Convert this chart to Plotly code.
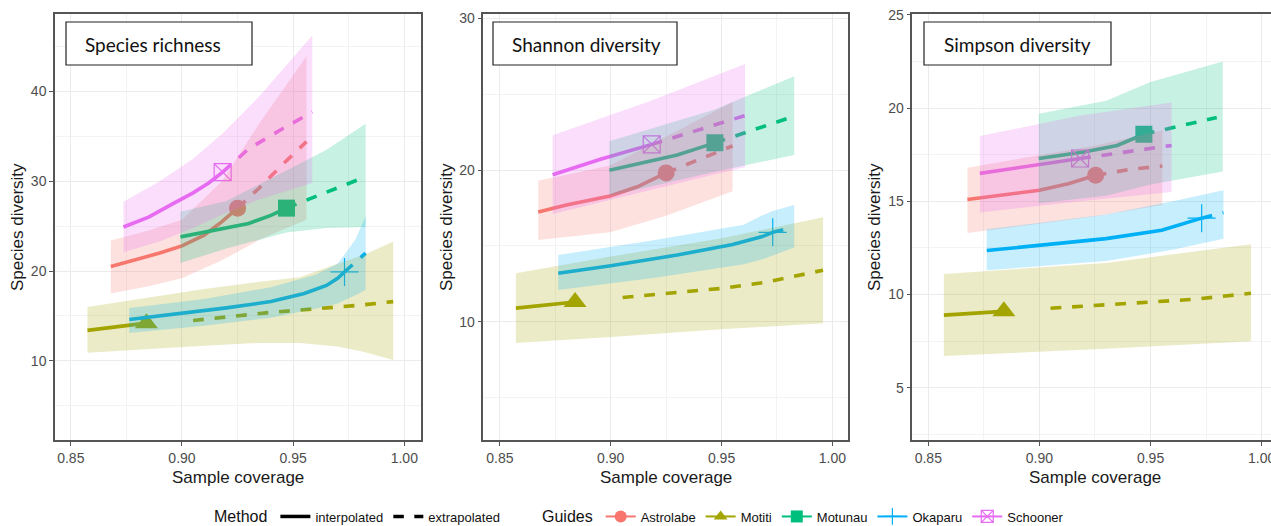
import plotly.graph_objects as go

W, H = 1271, 526

GUIDES = ["Astrolabe", "Motiti", "Motunau", "Okaparu", "Schooner"]
COLORS = {"Astrolabe": "#F8766D", "Motiti": "#A3A500", "Motunau": "#00BF7D",
          "Okaparu": "#00B0F6", "Schooner": "#E76BF3"}
SYMBOLS = {"Astrolabe": "circle", "Motiti": "triangle-up", "Motunau": "square",
           "Okaparu": "cross-thin", "Schooner": "square-x-open"}
SIZES = {"Astrolabe": 17, "Motiti": 20, "Motunau": 17, "Okaparu": 20, "Schooner": 17}

PANEL_TITLES = ["Species richness", "Shannon diversity", "Simpson diversity"]
X_TICKS = [0.85, 0.90, 0.95, 1.00]
X_TICK_LABELS = ["0.85", "0.90", "0.95", "1.00"]

# ---------------- Species richness ----------------
rich_interp = {
    "Astrolabe": ([0.868, 0.880, 0.890, 0.900, 0.910, 0.918, 0.925], [20.5, 21.3, 22.0, 22.8, 24.0, 25.5, 27.0]),
    "Motiti": ([0.8575, 0.870, 0.884], [13.4, 13.8, 14.2]),
    "Motunau": ([0.8993, 0.910, 0.920, 0.930, 0.940, 0.947], [23.8, 24.3, 24.8, 25.3, 26.2, 27.0]),
    "Okaparu": ([0.8763, 0.900, 0.920, 0.940, 0.955, 0.965, 0.970, 0.9731], [14.6, 15.3, 15.9, 16.6, 17.5, 18.4, 19.2, 19.9]),
    "Schooner": ([0.8737, 0.885, 0.896, 0.905, 0.912, 0.9183], [24.9, 26.0, 27.5, 28.7, 29.8, 31.0]),
}
rich_extrap = {
    "Astrolabe": ([0.925, 0.935, 0.945, 0.956], [27.0, 29.3, 31.8, 34.4]),
    "Motiti": ([0.905, 0.920, 0.940, 0.960, 0.980, 0.995], [14.5, 14.9, 15.4, 15.8, 16.2, 16.6]),
    "Motunau": ([0.947, 0.960, 0.970, 0.9796], [27.0, 28.3, 29.3, 30.2]),
    "Okaparu": ([0.9731, 0.978, 0.9826], [19.9, 21.0, 22.0]),
    "Schooner": ([0.9183, 0.930, 0.945, 0.9586], [31.0, 33.6, 35.8, 37.7]),
}
rich_band = {
    "Astrolabe": ([0.868, 0.885, 0.900, 0.918, 0.935, 0.956],
                  [17.5, 18.3, 19.2, 21.2, 23.5, 25.7],
                  [23.4, 24.5, 25.7, 30.0, 36.5, 43.9]),
    "Motiti": ([0.8575, 0.884, 0.910, 0.935, 0.953, 0.970, 0.982, 0.995],
               [10.9, 11.3, 11.7, 12.0, 12.0, 11.6, 11.0, 10.1],
               [16.0, 17.0, 18.0, 18.8, 19.3, 20.8, 21.8, 23.3]),
    "Motunau": ([0.8993, 0.920, 0.947, 0.965, 0.9826],
                [20.9, 22.5, 24.3, 24.8, 24.9],
                [26.6, 27.8, 31.2, 33.5, 36.4]),
    "Okaparu": ([0.8763, 0.910, 0.940, 0.960, 0.970, 0.9731, 0.978, 0.9826],
                [13.1, 13.9, 14.8, 15.8, 16.4, 16.8, 17.3, 17.9],
                [15.9, 16.9, 18.2, 19.6, 20.8, 21.8, 23.5, 26.1]),
    "Schooner": ([0.8737, 0.890, 0.905, 0.9183, 0.935, 0.9586],
                 [22.1, 23.3, 24.8, 26.3, 28.0, 29.8],
                 [27.7, 30.0, 32.5, 35.3, 39.5, 46.2]),
}

# ---------------- Shannon diversity ----------------
shan_interp = {
    "Astrolabe": ([0.8673, 0.880, 0.8997, 0.912, 0.925], [17.24, 17.7, 18.3, 18.9, 19.82]),
    "Motiti": ([0.8572, 0.870, 0.8839], [10.9, 11.1, 11.3]),
    "Motunau": ([0.8994, 0.915, 0.930, 0.947], [20.0, 20.5, 21.0, 21.8]),
    "Okaparu": ([0.8763, 0.900, 0.930, 0.955, 0.968, 0.9731], [13.2, 13.7, 14.4, 15.1, 15.6, 15.9]),
    "Schooner": ([0.8738, 0.895, 0.9185], [19.7, 20.7, 21.7]),
}
shan_extrap = {
    "Astrolabe": ([0.925, 0.940, 0.955], [19.82, 20.7, 21.6]),
    "Motiti": ([0.9054, 0.930, 0.950, 0.970, 0.9958], [11.6, 11.9, 12.2, 12.6, 13.4]),
    "Motunau": ([0.947, 0.965, 0.9795], [21.8, 22.7, 23.4]),
    "Okaparu": ([0.9731, 0.979], [15.9, 16.1]),
    "Schooner": ([0.9185, 0.940, 0.9606], [21.7, 22.7, 23.6]),
}
shan_band = {
    "Astrolabe": ([0.8673, 0.8997, 0.925, 0.955], [15.4, 15.9, 17.0, 18.6], [19.3, 20.3, 22.2, 24.5]),
    "Motiti": ([0.8572, 0.900, 0.950, 0.9958], [8.6, 9.0, 9.5, 9.9], [13.2, 14.3, 15.5, 16.9]),
    "Motunau": ([0.8994, 0.947, 0.9828], [18.3, 19.9, 21.0], [21.9, 24.0, 26.2]),
    "Okaparu": ([0.8763, 0.920, 0.960, 0.968, 0.9731, 0.9828],
                [12.1, 12.9, 13.8, 14.1, 14.4, 14.9],
                [14.4, 15.4, 16.4, 17.0, 17.3, 17.7]),
    "Schooner": ([0.8738, 0.9185, 0.9606], [17.1, 18.7, 20.2], [22.3, 24.6, 27.0]),
}

# ---------------- Simpson diversity ----------------
simp_interp = {
    "Astrolabe": ([0.8676, 0.885, 0.900, 0.913, 0.9253], [15.1, 15.35, 15.6, 15.95, 16.4]),
    "Motiti": ([0.857, 0.870, 0.884], [8.9, 9.0, 9.1]),
    "Motunau": ([0.8997, 0.920, 0.935, 0.947], [17.3, 17.65, 18.0, 18.6]),
    "Okaparu": ([0.8763, 0.900, 0.930, 0.955, 0.973], [12.36, 12.65, 13.0, 13.45, 14.1]),
    "Schooner": ([0.8732, 0.895, 0.9183], [16.5, 16.9, 17.3]),
}
simp_extrap = {
    "Astrolabe": ([0.9253, 0.940, 0.9553], [16.4, 16.7, 16.9]),
    "Motiti": ([0.905, 0.930, 0.950, 0.970, 0.9952], [9.27, 9.45, 9.6, 9.75, 10.07]),
    "Motunau": ([0.947, 0.965, 0.9798], [18.6, 19.1, 19.5]),
    "Okaparu": ([0.973, 0.9828], [14.1, 14.4]),
    "Schooner": ([0.9183, 0.940, 0.9595], [17.3, 17.65, 18.0]),
}
simp_band = {
    "Astrolabe": ([0.8676, 0.9253, 0.9553], [13.3, 14.2, 14.8], [16.8, 18.0, 18.8]),
    "Motiti": ([0.857, 0.930, 0.9952], [6.7, 7.1, 7.5], [11.1, 11.7, 12.7]),
    "Motunau": ([0.8997, 0.930, 0.950, 0.9825], [14.9, 15.3, 15.9, 16.6], [19.7, 20.4, 21.4, 22.5]),
    "Okaparu": ([0.8763, 0.930, 0.960, 0.9828], [11.3, 11.8, 12.4, 13.0], [13.5, 14.3, 15.0, 15.6]),
    "Schooner": ([0.8732, 0.9183, 0.9595], [14.4, 15.0, 15.5], [18.5, 19.6, 20.3]),
}

PANELS = [
    (rich_interp, rich_extrap, rich_band),
    (shan_interp, shan_extrap, shan_band),
    (simp_interp, simp_extrap, simp_band),
]
Y_TICKS = [[10, 20, 30, 40], [10, 20, 30], [5, 10, 15, 20, 25]]

# ---------------- layout geometry ----------------
X_DOMAINS = [[55 / W, 421 / W], [483.3 / W, 848.3 / W], [912.3 / W, 1.0]]
X_RANGES = [[0.8429, 1.0075], [0.8425, 1.0072], [0.8428, 1.0042]]
Y_RANGES = [[1.2, 48.6], [2.2, 30.3], [2.2, 25.05]]
Y_MINOR = [5, 5, 2.5]
Y_DOMAIN = [(H - 440) / H, (H - 14) / H]


def rgba(hexc, a):
    h = hexc.lstrip("#")
    r, g, b = int(h[0:2], 16), int(h[2:4], 16), int(h[4:6], 16)
    return f"rgba({r},{g},{b},{a})"


fig = go.Figure()
LW = 3.6

for p, (interp, extrap, band) in enumerate(PANELS):
    xa = "x" if p == 0 else f"x{p + 1}"
    ya = "y" if p == 0 else f"y{p + 1}"
    # lines first
    for g in GUIDES:
        c = COLORS[g]
        xi, yi = interp[g]
        xe, ye = extrap[g]
        fig.add_trace(go.Scatter(x=xe, y=ye, mode="lines", xaxis=xa, yaxis=ya,
                                 line=dict(color=c, width=LW, dash="dash"),
                                 showlegend=False, hoverinfo="skip"))
        fig.add_trace(go.Scatter(x=xi, y=yi, mode="lines", xaxis=xa, yaxis=ya,
                                 line=dict(color=c, width=LW),
                                 showlegend=False, hoverinfo="skip"))
        sym = SYMBOLS[g]
        mk = dict(color=c, size=SIZES[g], symbol=sym)
        if sym in ("cross-thin", "square-x-open"):
            mk["line"] = dict(color=c, width=1.2)
        fig.add_trace(go.Scatter(x=[xi[-1]], y=[yi[-1]], mode="markers", xaxis=xa, yaxis=ya,
                                 marker=mk, showlegend=False, hoverinfo="skip"))
    # ribbons on top (semi-transparent)
    for g in GUIDES:
        bx, lo, hi = band[g]
        fig.add_trace(go.Scatter(x=list(bx) + list(bx)[::-1], y=list(hi) + list(lo)[::-1],
                                 mode="lines", fill="toself", xaxis=xa, yaxis=ya,
                                 fillcolor=rgba(COLORS[g], 0.22), line=dict(width=0),
                                 showlegend=False, hoverinfo="skip"))

# legend entries
fig.add_trace(go.Scatter(x=[None], y=[None], mode="lines", name="interpolated",
                         line=dict(color="black", width=3.5), legend="legend"))
fig.add_trace(go.Scatter(x=[None], y=[None], mode="lines", name="extrapolated",
                         line=dict(color="black", width=3.5, dash="dash"), legend="legend"))
for g in GUIDES:
    sym = SYMBOLS[g]
    mk = dict(color=COLORS[g], size=12, symbol=sym)
    if sym in ("cross-thin", "square-x-open"):
        mk["line"] = dict(color=COLORS[g], width=1.2)
    fig.add_trace(go.Scatter(x=[None], y=[None], mode="lines+markers", name=g,
                             line=dict(color=COLORS[g], width=2), marker=mk, legend="legend2"))

tickfont = dict(family="Liberation Sans, Arial, sans-serif", size=14, color="#4D4D4D")
for p in range(3):
    sx = "" if p == 0 else str(p + 1)
    common_x = dict(domain=X_DOMAINS[p], range=X_RANGES[p], tickvals=X_TICKS,
                    ticktext=X_TICK_LABELS, showgrid=True, gridcolor="#EBEBEB", gridwidth=1,
                    minor=dict(showgrid=True, gridcolor="#F3F3F3", dtick=0.025, tick0=0.85),
                    showline=True, linecolor="#555555", linewidth=1.5, mirror=True,
                    ticks="outside", ticklen=4, tickcolor="#555555", tickfont=tickfont,
                    ticklabeloverflow="allow", automargin=False,
                    zeroline=False, anchor="y" + sx, fixedrange=True)
    common_y = dict(domain=Y_DOMAIN, range=Y_RANGES[p], tickvals=Y_TICKS[p],
                    showgrid=True, gridcolor="#EBEBEB", gridwidth=1,
                    minor=dict(showgrid=True, gridcolor="#F3F3F3", dtick=Y_MINOR[p], tick0=0),
                    showline=True, linecolor="#555555", linewidth=1.5,
                    mirror=(p < 2), automargin=False,
                    ticks="outside", ticklen=4, tickcolor="#555555", tickfont=tickfont,
                    zeroline=False, anchor="x" + sx, fixedrange=True)
    fig.layout["xaxis" + sx] = common_x
    fig.layout["yaxis" + sx] = common_y

annotations = []
shapes = []
BOXES = [(66, 252, 83), (493, 677, 510), (924, 1111, 942)]
YTITLE_X = [18, 447, 875]
XTITLE_CX = [238, 666, 1095]
for p in range(3):
    x0, x1, tx = BOXES[p]
    shapes.append(dict(type="rect", xref="paper", yref="paper",
                       x0=x0 / W, x1=x1 / W, y0=(H - 65) / H, y1=(H - 22) / H,
                       line=dict(color="#222222", width=1.2), fillcolor="white"))
    annotations.append(dict(text=PANEL_TITLES[p], xref="paper", yref="paper",
                            x=tx / W, y=(H - 44) / H, xanchor="left", yanchor="middle",
                            showarrow=False, font=dict(family="Lato, Open Sans, sans-serif",
                                                       size=19, color="#111111")))
    annotations.append(dict(text="Species diversity", xref="paper", yref="paper",
                            x=YTITLE_X[p] / W, y=(H - 227) / H, textangle=-90,
                            xanchor="center", yanchor="middle", showarrow=False,
                            font=dict(family="Liberation Sans, Arial, sans-serif", size=17,
                                      color="#1A1A1A")))
    annotations.append(dict(text="Sample coverage", xref="paper", yref="paper",
                            x=XTITLE_CX[p] / W, y=(H - 477) / H,
                            xanchor="center", yanchor="middle", showarrow=False,
                            font=dict(family="Liberation Sans, Arial, sans-serif", size=17,
                                      color="#1A1A1A")))

fig.update_layout(
    width=W, height=H, margin=dict(l=0, r=0, t=0, b=0, autoexpand=False),
    paper_bgcolor="white", plot_bgcolor="white",
    shapes=shapes, annotations=annotations,
    legend=dict(orientation="h", x=212 / W, y=(H - 517) / H, xanchor="left", yanchor="middle",
                xref="container", yref="container",
                title=dict(text="Method", side="left",
                           font=dict(family="Liberation Sans, Arial, sans-serif", size=16, color="#111")),
                font=dict(family="Liberation Sans, Arial, sans-serif", size=13, color="#111"),
                itemwidth=30, tracegroupgap=0, bgcolor="rgba(0,0,0,0)"),
    legend2=dict(orientation="h", x=540 / W, y=(H - 517) / H, xanchor="left", yanchor="middle",
                 xref="container", yref="container",
                 title=dict(text="Guides", side="left",
                            font=dict(family="Liberation Sans, Arial, sans-serif", size=16, color="#111")),
                 font=dict(family="Liberation Sans, Arial, sans-serif", size=13, color="#111"),
                 itemwidth=30, tracegroupgap=0, bgcolor="rgba(0,0,0,0)"),
)

fig.write_html("out.html")
